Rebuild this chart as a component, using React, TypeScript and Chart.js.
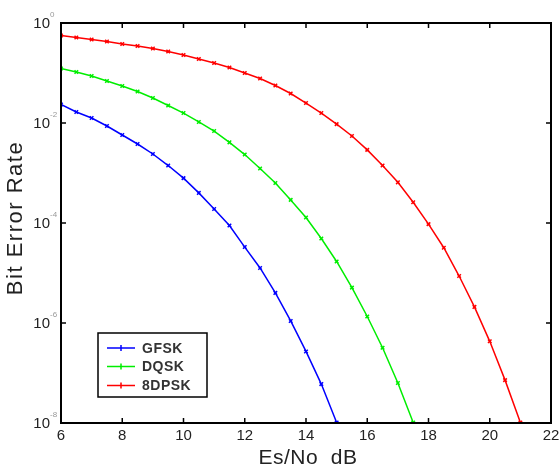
import { useEffect, useRef } from 'react';
import { Chart, registerables } from 'chart.js';
Chart.register(...registerables);

// Es/No in dB (shared x values, each series uses a prefix)
const snrDb = [6, 6.5, 7, 7.5, 8, 8.5, 9, 9.5, 10, 10.5, 11, 11.5, 12, 12.5, 13, 13.5, 14, 14.5, 15, 15.5, 16, 16.5, 17, 17.5, 18, 18.5, 19, 19.5, 20, 20.5, 21];

const berGFSK = [2.34e-2, 1.66e-2, 1.26e-2, 8.7e-3, 5.75e-3, 3.8e-3, 2.4e-3, 1.41e-3, 7.9e-4, 4.0e-4, 1.9e-4, 8.9e-5, 3.3e-5, 1.26e-5, 4.0e-6, 1.1e-6, 2.7e-7, 6.0e-8, 1.02e-8];
const berDQSK = [0.123, 0.105, 0.087, 0.069, 0.055, 0.0427, 0.0316, 0.0224, 0.0158, 0.0105, 6.9e-3, 4.1e-3, 2.34e-3, 1.23e-3, 6.3e-4, 2.9e-4, 1.29e-4, 4.9e-5, 1.7e-5, 5.1e-6, 1.35e-6, 3.2e-7, 6.3e-8, 1.02e-8];
const ber8DPSK = [0.562, 0.513, 0.468, 0.427, 0.38, 0.347, 0.309, 0.269, 0.229, 0.191, 0.158, 0.129, 0.1, 0.0776, 0.0562, 0.0389, 0.0251, 0.0158, 9.5e-3, 5.5e-3, 2.9e-3, 1.41e-3, 6.5e-4, 2.6e-4, 9.5e-5, 3.2e-5, 8.7e-6, 2.1e-6, 4.3e-7, 7.2e-8, 1.02e-8];

const seriesNames = ['GFSK', 'DQSK', '8DPSK'];
const seriesColors = ['#0000ff', '#00ee00', '#ff0000'];

const xTicks = [6, 8, 10, 12, 14, 16, 18, 20, 22];
const yTicks = [1, 1e-2, 1e-4, 1e-6, 1e-8];
const yTickExp = ['0', '-2', '-4', '-6', '-8'];

const xTitle = 'Es/No  dB';
const yTitle = 'Bit Error Rate';

const FONT = '"Liberation Sans", Arial, sans-serif';

const toPoints = (ys: number[]) => ys.map((y, i) => ({ x: snrDb[i], y }));

const decorPlugin = {
  id: 'decor',
  afterDraw(chart: any) {
    const { ctx, chartArea: a, scales } = chart;
    const xs = scales.x;
    const ys = scales.y;
    ctx.save();
    // frame
    ctx.strokeStyle = '#000';
    ctx.lineWidth = 2;
    ctx.strokeRect(a.left, a.top, a.right - a.left, a.bottom - a.top);
    // inward ticks
    const tl = 5;
    ctx.lineWidth = 1.5;
    ctx.beginPath();
    xTicks.forEach((v) => {
      const px = xs.getPixelForValue(v);
      ctx.moveTo(px, a.bottom);
      ctx.lineTo(px, a.bottom - tl);
      ctx.moveTo(px, a.top);
      ctx.lineTo(px, a.top + tl);
    });
    yTicks.forEach((v) => {
      const py = ys.getPixelForValue(v);
      ctx.moveTo(a.left, py);
      ctx.lineTo(a.left + tl, py);
      ctx.moveTo(a.right, py);
      ctx.lineTo(a.right - tl, py);
    });
    ctx.stroke();

    // x tick labels
    ctx.fillStyle = '#222';
    ctx.font = `15px ${FONT}`;
    ctx.textAlign = 'center';
    ctx.textBaseline = 'middle';
    xTicks.forEach((v) => {
      ctx.fillText(String(v), xs.getPixelForValue(v), a.bottom + 13);
    });

    // y tick labels 10^n
    yTicks.forEach((v, i) => {
      const py = ys.getPixelForValue(v);
      ctx.fillStyle = '#222';
      ctx.font = `15px ${FONT}`;
      ctx.textAlign = 'right';
      ctx.textBaseline = 'middle';
      ctx.fillText('10', a.left - 11, py + 1);
      ctx.fillStyle = '#999';
      ctx.font = `8px ${FONT}`;
      ctx.textAlign = 'left';
      ctx.fillText(yTickExp[i], a.left - 11, py - 8);
    });

    // axis titles
    ctx.fillStyle = '#222';
    ctx.font = `21px ${FONT}`;
    ctx.textAlign = 'center';
    ctx.textBaseline = 'middle';
    (ctx as any).letterSpacing = '0.5px';
    ctx.fillText(xTitle, (a.left + a.right) / 2 + 2, 458);
    ctx.save();
    ctx.font = `22px ${FONT}`;
    (ctx as any).letterSpacing = '1.5px';
    ctx.translate(16, (a.top + a.bottom) / 2 - 5);
    ctx.rotate(-Math.PI / 2);
    ctx.fillText(yTitle, 0, 0);
    ctx.restore();
    (ctx as any).letterSpacing = '0px';

    // legend box
    const bx = 98, by = 333, bw = 109, bh = 64;
    ctx.fillStyle = '#fff';
    ctx.fillRect(bx, by, bw, bh);
    ctx.strokeStyle = '#000';
    ctx.lineWidth = 1.5;
    ctx.strokeRect(bx, by, bw, bh);
    const rows = [348, 366.5, 385.5];
    seriesNames.forEach((name, i) => {
      const y = rows[i];
      ctx.strokeStyle = seriesColors[i];
      ctx.lineWidth = 1.5;
      ctx.beginPath();
      ctx.moveTo(107, y);
      ctx.lineTo(135, y);
      ctx.moveTo(121, y - 3);
      ctx.lineTo(121, y + 3);
      ctx.stroke();
      ctx.fillStyle = '#333';
      ctx.font = `bold 14px ${FONT}`;
      ctx.textAlign = 'left';
      ctx.textBaseline = 'middle';
      (ctx as any).letterSpacing = '0.5px';
      ctx.fillText(name, 142, y + 1);
      (ctx as any).letterSpacing = '0px';
    });
    ctx.restore();
  },
};

export default function App() {
  const ref = useRef<HTMLCanvasElement>(null);
  useEffect(() => {
    if (!ref.current) return;
    const datas = [berGFSK, berDQSK, ber8DPSK];
    const chart = new Chart(ref.current, {
      type: 'line',
      data: {
        datasets: datas.map((d, i) => ({
          label: seriesNames[i],
          data: toPoints(d),
          borderColor: seriesColors[i],
          backgroundColor: seriesColors[i],
          borderWidth: 1.5,
          pointStyle: 'crossRot',
          pointRadius: 2.5,
          pointBorderWidth: 1.5,
          pointBorderColor: seriesColors[i],
          tension: 0,
          fill: false,
        })),
      },
      options: {
        animation: false,
        responsive: false,
        maintainAspectRatio: false,
        layout: { padding: { top: 23, right: 8, left: 0, bottom: 0 } },
        plugins: { legend: { display: false }, tooltip: { enabled: false } },
        scales: {
          x: {
            type: 'linear',
            min: 6,
            max: 22,
            grid: { display: false },
            border: { display: false },
            ticks: { display: false },
            afterFit: (s: any) => { s.height = 51; },
          },
          y: {
            type: 'logarithmic',
            min: 1e-8,
            max: 1,
            grid: { display: false },
            border: { display: false },
            ticks: { display: false },
            afterFit: (s: any) => { s.width = 61; },
          },
        },
      },
      plugins: [decorPlugin],
    });
    return () => chart.destroy();
  }, []);
  return (
    <div style={{ position: 'fixed', left: 0, top: 0, width: 559, height: 474, background: '#fff' }}>
      <canvas ref={ref} width={559} height={474} style={{ width: 559, height: 474 }} />
    </div>
  );
}
